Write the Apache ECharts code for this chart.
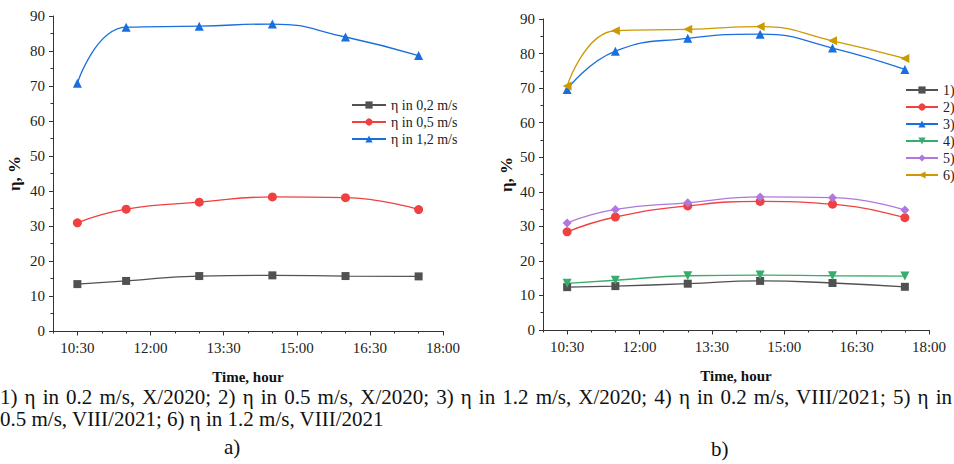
<!DOCTYPE html>
<html>
<head>
<meta charset="utf-8">
<script src="https://cdn.jsdelivr.net/npm/echarts@6/dist/echarts.min.js"></script>
<style>
  html, body { margin: 0; padding: 0; background: #fff; }
  .wrap { position: relative; width: 954px; height: 464px; }
  #chart { width: 954px; height: 464px; }
  .cap {
    position: absolute; left: 0; width: 952px;
    font-family: 'Liberation Serif', serif; font-size: 21px; color: #111;
    line-height: 22px; white-space: nowrap;
  }
  .cap.just { text-align: justify; text-align-last: justify; }
  .panel { position: absolute; font-family: 'Liberation Serif', serif; font-size: 21px; color: #111; }
</style>
</head>
<body>
<div class="wrap">
  <div id="chart"></div>
  <div class="cap just" style="top:386px">1) η in 0.2 m/s, X/2020; 2) η in 0.5 m/s, X/2020; 3) η in 1.2 m/s, X/2020; 4) η in 0.2 m/s, VIII/2021; 5) η in</div>
  <div class="cap" style="top:408px">0.5 m/s, VIII/2021; 6) η in 1.2 m/s, VIII/2021</div>
  <div class="panel" style="left:224px;top:435px">a)</div>
  <div class="panel" style="left:711px;top:437px">b)</div>
</div>
<script>
  // measurement times and axis labels
  const times = ['10:30', '11:30', '13:00', '14:30', '16:00', '17:30']
  const majorTicks = ['10:30', '12:00', '13:30', '15:00', '16:30', '18:00']
  const axisStart = '10:00'
  const axisEnd = '18:00'

  // panel a)
  const namesA = ['η in 0,2 m/s', 'η in 0,5 m/s', 'η in 1,2 m/s']
  const a02 = [13.4, 14.3, 15.7, 15.9, 15.7, 15.6]
  const a05 = [30.9, 34.8, 36.8, 38.3, 38.1, 34.7]
  const a12 = [70.8, 86.8, 87.1, 87.7, 84.0, 78.7]

  // panel b)
  const namesB = ['1)', '2)', '3)', '4)', '5)', '6)']
  const b1 = [12.4, 12.7, 13.4, 14.2, 13.6, 12.5]
  const b2 = [28.4, 32.7, 35.9, 37.2, 36.4, 32.5]
  const b3 = [69.6, 80.7, 84.4, 85.6, 81.6, 75.4]
  const b4 = [13.5, 14.4, 15.7, 15.9, 15.7, 15.6]
  const b5 = [31.0, 34.9, 36.8, 38.5, 38.3, 34.7]
  const b6 = [70.6, 86.6, 87.0, 87.8, 83.7, 78.6]

  const colors = ['#515151', '#F14040', '#1A6FDF', '#37AD6B', '#B177DE', '#CC9900']
  const symbols = [
    { symbol: 'rect', rotate: 0 },
    { symbol: 'circle', rotate: 0 },
    { symbol: 'triangle', rotate: 0 },
    { symbol: 'triangle', rotate: 180 },
    { symbol: 'diamond', rotate: 0 },
    { symbol: 'triangle', rotate: 90 },
  ]

  const font = "'Liberation Serif', 'Times New Roman', serif"
  const toMin = (t) => { const p = t.split(':'); return +p[0] * 60 + +p[1] }
  const fmtMin = (v) => Math.floor(v / 60) + ':' + String(v % 60).padStart(2, '0')
  const pairs = (vals) => vals.map((v, i) => [toMin(times[i]), v])

  const makeSeries = (name, vals, k, axis) => ({
    name: name,
    type: 'line',
    xAxisIndex: axis * 2,
    yAxisIndex: axis,
    data: pairs(vals),
    smooth: 0.5,
    symbol: symbols[k].symbol,
    symbolRotate: symbols[k].rotate,
    symbolSize: symbols[k].symbol === 'rect' ? 8 : 9,
    lineStyle: { color: colors[k], width: 1.3 },
    itemStyle: { color: colors[k] },
    emphasis: { disabled: true },
  })

  const xMajor = (grid) => ({
    type: 'value',
    gridIndex: grid,
    position: 'bottom',
    min: toMin(axisStart),
    max: toMin(axisEnd),
    name: 'Time, hour',
    nameLocation: 'middle',
    nameGap: 38,
    nameTextStyle: { fontFamily: font, fontWeight: 'bold', fontSize: 15, color: '#111' },
    axisLine: { show: true, lineStyle: { color: '#333', width: 1 } },
    axisTick: { show: true, length: 4.5, customValues: majorTicks.map(toMin), lineStyle: { color: '#333' } },
    axisLabel: {
      customValues: majorTicks.map(toMin),
      formatter: fmtMin,
      margin: 9,
      fontFamily: font, fontSize: 15, color: '#222',
    },
    splitLine: { show: false },
  })
  // minor ticks every 30 min (min is a multiple of the interval)
  const xMinor = (grid) => ({
    type: 'value',
    gridIndex: grid,
    position: 'bottom',
    min: toMin(axisStart),
    max: toMin(axisEnd),
    interval: 30,
    axisLine: { show: false },
    axisTick: { show: true, length: 2.5, lineStyle: { color: '#333' } },
    axisLabel: { show: false },
    splitLine: { show: false },
  })
  const yAxis = (grid, gap) => ({
    type: 'value',
    gridIndex: grid,
    min: 0,
    max: 90,
    interval: 10,
    name: 'η, %',
    nameLocation: 'middle',
    nameGap: gap,
    nameTextStyle: { fontFamily: font, fontWeight: 'bold', fontSize: 17, color: '#111' },
    axisLine: { show: true, lineStyle: { color: '#333', width: 1 } },
    axisTick: { show: true, length: 4, lineStyle: { color: '#333' } },
    minorTick: { show: true, splitNumber: 2, length: 2.5, lineStyle: { color: '#333' } },
    axisLabel: { margin: 8, fontFamily: font, fontSize: 15, color: '#222' },
    splitLine: { show: false },
  })

  const chart = echarts.init(document.getElementById('chart'), null, { renderer: 'svg' })
  const option = {
    animation: false,
    grid: [
      { left: 53, top: 16, width: 390, height: 315 },
      { left: 543, top: 19, width: 386, height: 311 },
    ],
    xAxis: [xMajor(0), xMinor(0), xMajor(1), xMinor(1)],
    yAxis: [yAxis(0, 30), yAxis(1, 28)],
    legend: [
      {
        data: namesA,
        orient: 'vertical',
        left: 346, top: 93,
        itemWidth: 34, itemHeight: 9, itemGap: 3,
        textStyle: { fontFamily: font, fontSize: 14, color: '#222' },
      },
      {
        data: namesB,
        orient: 'vertical',
        left: 900, top: 78,
        itemWidth: 32, itemHeight: 9, itemGap: 3,
        textStyle: { fontFamily: font, fontSize: 14, color: '#222' },
      },
    ],
    series: [
      makeSeries(namesA[0], a02, 0, 0),
      makeSeries(namesA[1], a05, 1, 0),
      makeSeries(namesA[2], a12, 2, 0),
      makeSeries(namesB[0], b1, 0, 1),
      makeSeries(namesB[1], b2, 1, 1),
      makeSeries(namesB[2], b3, 2, 1),
      makeSeries(namesB[3], b4, 3, 1),
      makeSeries(namesB[4], b5, 4, 1),
      makeSeries(namesB[5], b6, 5, 1),
    ],
  }
  option && chart.setOption(option)
</script>
</body>
</html>
